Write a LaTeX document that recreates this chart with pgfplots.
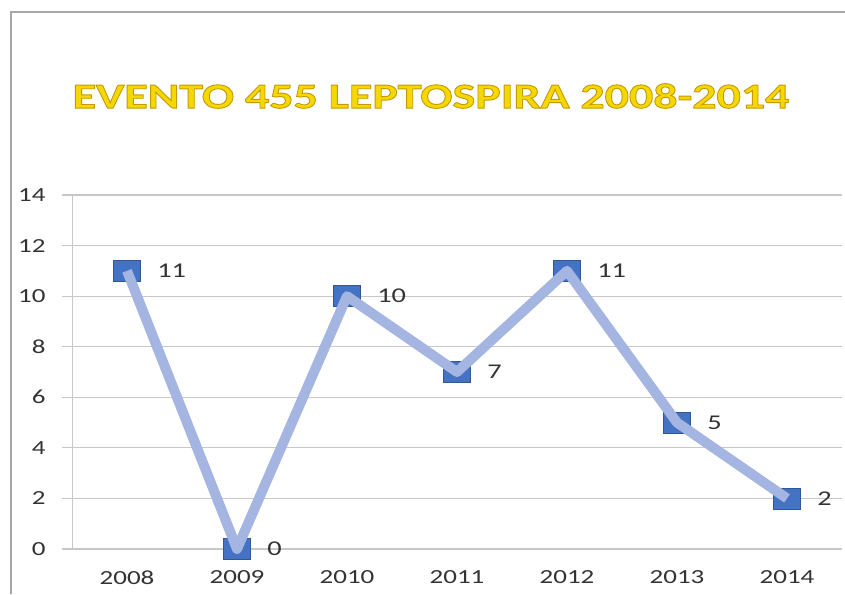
\documentclass[border=0pt]{standalone}
\usepackage{pgfplots}
\pgfplotsset{compat=1.18}
\usepackage{fontspec}
\setmainfont{Carlito}[FakeStretch=1.35]
\definecolor{linec}{HTML}{A3B5E0}
\definecolor{markc}{HTML}{4472C4}
\definecolor{gridc}{HTML}{C8C8C8}
\definecolor{titley}{HTML}{F5D800}
\definecolor{txt}{HTML}{333333}
\begin{document}
\begin{tikzpicture}[x=1pt,y=1pt]
\useasboundingbox[fill=white] (0,0) rectangle (845,594);
\draw[gray!70, line width=1.2pt] (11,0) -- (11,582) -- (845,582);
\node[text=titley, font=\fontsize{35.5}{40}\selectfont\bfseries] at (431,498)
  {\special{pdf:literal direct 2 Tr 0.9 w 0.78 0.6 0 RG}EVENTO 455 LEPTOSPIRA 2008-2014\special{pdf:literal direct 0 Tr}};
\begin{axis}[
  at={(72pt,45pt)}, anchor=south west,
  scale only axis, width=770pt, height=354pt,
  xmin=-0.5, xmax=6.5, ymin=0, ymax=14,
  axis x line*=bottom, axis y line*=left,
  axis line style={gridc, line width=1pt, -},
  xtick={0,...,6},
  xticklabels={2008,2009,2010,2011,2012,2013,2014},
  x tick style={draw=none},
  extra x ticks={-0.5,0.5,1.5,2.5,3.5,4.5,5.5,6.5},
  extra x tick labels={},
  extra x tick style={tick style={draw=gridc, line width=1pt}, major tick length=7pt, tick align=outside, grid=none},
  ytick={0,2,...,14},
  ymajorgrids,
  major grid style={gridc, line width=1.2pt},
  y tick style={draw=gridc, line width=1.2pt},
  tick align=outside, major tick length=10pt,
  /pgf/number format/assume math mode=true,
  ticklabel style={font=\fontsize{20}{24}\selectfont, text=txt},
  yticklabel style={xshift=-13pt},
  xticklabel style={yshift=-8pt},
  clip=false, clip marker paths=true,
]
\addplot[only marks, mark=square*, mark size=10.5pt,
  mark options={xscale=1.3, fill=markc, draw=markc!75!black, line width=0.6pt}]
  coordinates {(0,11) (1,0) (2,10) (3,7) (4,11) (5,5) (6,2)};
\addplot[linec, line width=10pt, line join=round, no marks,
  nodes near coords, point meta=explicit symbolic,
  every node near coord/.append style={anchor=west, xshift=22pt, yshift=0pt, font=\fontsize{21}{24}\selectfont, text=txt}]
  coordinates {(0,11)[11] (1,0)[0] (2,10)[10] (3,7)[7] (4,11)[11] (5,5)[5] (6,2)[2]};
\end{axis}
\end{tikzpicture}
\end{document}
